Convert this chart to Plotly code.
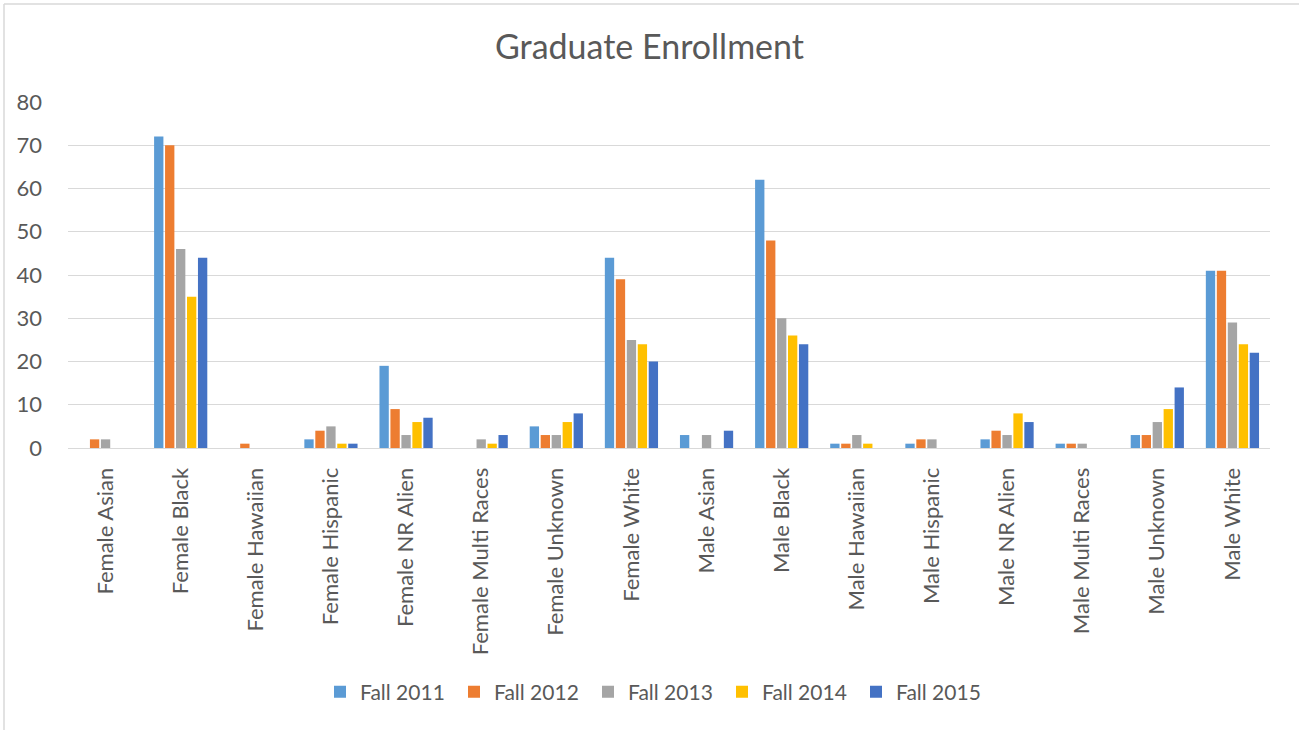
import plotly.graph_objects as go

categories = ["Female Asian", "Female Black", "Female Hawaiian", "Female Hispanic",
              "Female NR Alien", "Female Multi Races", "Female Unknown", "Female White",
              "Male Asian", "Male Black", "Male Hawaiian", "Male Hispanic",
              "Male NR Alien", "Male Multi Races", "Male Unknown", "Male White"]
fall_2011 = [0, 72, 0, 2, 19, 0, 5, 44, 3, 62, 1, 1, 2, 1, 3, 41]
fall_2012 = [2, 70, 1, 4, 9, 0, 3, 39, 0, 48, 1, 2, 4, 1, 3, 41]
fall_2013 = [2, 46, 0, 5, 3, 2, 3, 25, 3, 30, 3, 2, 3, 1, 6, 29]
fall_2014 = [0, 35, 0, 1, 6, 1, 6, 24, 0, 26, 1, 0, 8, 0, 9, 24]
fall_2015 = [0, 44, 0, 1, 7, 3, 8, 20, 4, 24, 0, 0, 6, 0, 14, 22]
series_names = ["Fall 2011", "Fall 2012", "Fall 2013", "Fall 2014", "Fall 2015"]
colors = ["#5B9BD5", "#ED7D31", "#A5A5A5", "#FFC000", "#4472C4"]

W, H = 1299, 730
L, R, T, B = 68, 29, 102, 282
pw, ph = W - L - R, H - T - B

def px_x(x):
    return (x - L) / pw

def px_y(y):
    return (H - B - y) / ph

fig = go.Figure()
for name, vals, c in zip(series_names, [fall_2011, fall_2012, fall_2013, fall_2014, fall_2015], colors):
    fig.add_trace(go.Bar(name=name, x=categories, y=vals, marker=dict(color=c, line=dict(width=0))))

font_family = "Lato, Liberation Sans, Arial, sans-serif"
fig.update_layout(
    width=W, height=H,
    barmode="group", bargap=0.27, bargroupgap=0.15,
    paper_bgcolor="white", plot_bgcolor="white",
    margin=dict(l=L, r=R, t=T, b=B, autoexpand=False),
    title=dict(text="Graduate Enrollment", x=0.5, xanchor="center", y=1 - 47 / H, yanchor="middle",
               font=dict(family=font_family, size=34, color="#595959")),
    font=dict(family=font_family, size=21, color="#595959"),
    legend=dict(orientation="h", x=px_x(655), xanchor="center", y=px_y(692), yanchor="middle",
                font=dict(size=21, color="#595959"), traceorder="normal",
                entrywidth=89, entrywidthmode="pixels"),
    showlegend=True,
)
fig.update_yaxes(range=[0, 80], dtick=10, showgrid=True, gridcolor="#D9D9D9", gridwidth=1,
                 zeroline=False, showline=False, tickfont=dict(size=22, color="#595959"),
                 ticklabelstandoff=25)
fig.update_xaxes(tickangle=-90, showline=True, linecolor="#D9D9D9", linewidth=1,
                 tickfont=dict(size=22, color="#595959"), ticks="", ticklabelstandoff=10)
# outer chart border (left and top edges visible)
fig.add_shape(type="line", xref="paper", yref="paper", x0=px_x(4), x1=px_x(4), y0=px_y(4), y1=px_y(H + 5),
              line=dict(color="#D9D9D9", width=1.5))
fig.add_shape(type="line", xref="paper", yref="paper", x0=px_x(4), x1=px_x(W + 5), y0=px_y(4), y1=px_y(4),
              line=dict(color="#D9D9D9", width=1.5))
fig.write_html("out.html", config={"displayModeBar": False},
               post_script="document.body.style.margin='0';document.body.style.overflow='hidden';")
